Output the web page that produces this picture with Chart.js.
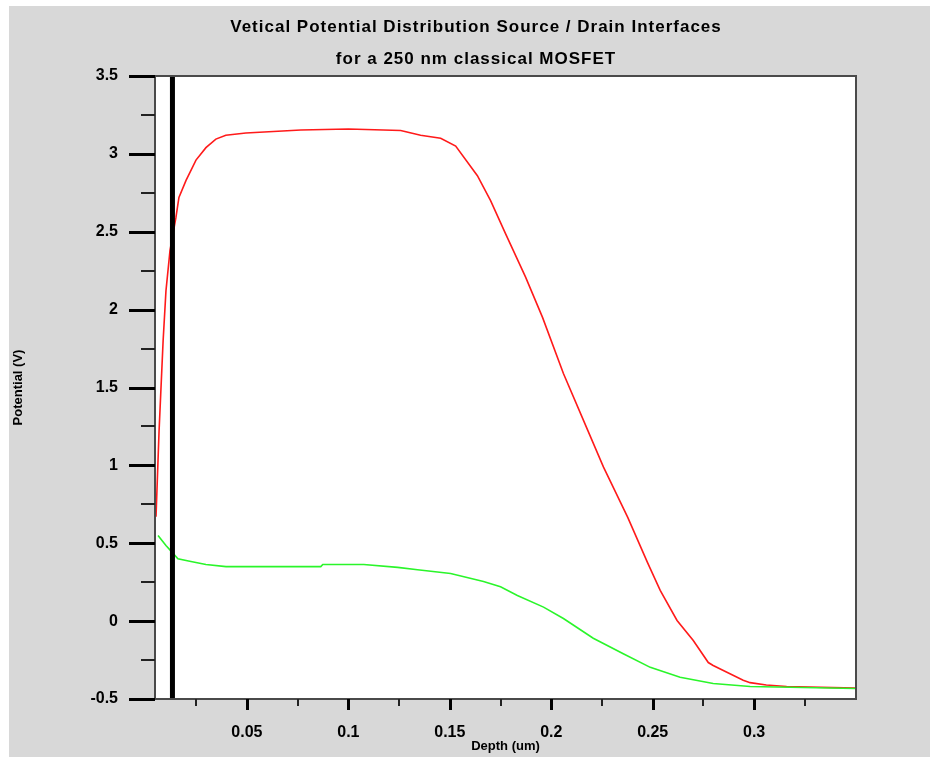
<!DOCTYPE html>
<html>
<head>
<meta charset="utf-8">
<script src="https://cdn.jsdelivr.net/npm/chart.js@4.4.0/dist/chart.umd.min.js"></script>
<style>
  html, body { margin: 0; padding: 0; background: #fff; }
  #wrap { position: absolute; left: 9px; top: 6px; width: 921px; height: 751px; background: #d8d8d8; }
</style>
</head>
<body>
<div id="wrap"><canvas id="chart" width="921" height="751"></canvas></div>
<script>
// potential curves (depth in um, potential in V)
const redDepth = [0.0052, 0.0067, 0.0087, 0.0101, 0.0121, 0.0150, 0.0165, 0.0200, 0.0249, 0.0298, 0.0347, 0.0396, 0.0495, 0.0766, 0.100, 0.1258, 0.1356, 0.1455, 0.1529, 0.1636, 0.1701, 0.1774, 0.1873, 0.1957, 0.2060, 0.2180, 0.2257, 0.2377, 0.2474, 0.2537, 0.2620, 0.2700, 0.2774, 0.2798, 0.2946, 0.2980, 0.3060, 0.3160, 0.3500];
const redPotential = [0.67, 1.22, 1.80, 2.12, 2.38, 2.59, 2.72, 2.83, 2.96, 3.04, 3.095, 3.12, 3.134, 3.153, 3.16, 3.15, 3.12, 3.10, 3.05, 2.86, 2.70, 2.49, 2.21, 1.95, 1.59, 1.225, 0.99, 0.666, 0.377, 0.197, 0.004, -0.125, -0.266, -0.285, -0.38, -0.395, -0.41, -0.42, -0.43];

const greenDepth = [0.0062, 0.0101, 0.0136, 0.0160, 0.0224, 0.0298, 0.0397, 0.0864, 0.0874, 0.1076, 0.1243, 0.1341, 0.1504, 0.1666, 0.1750, 0.1833, 0.1962, 0.2060, 0.2207, 0.2355, 0.2488, 0.2635, 0.2798, 0.2980, 0.3500];
const greenPotential = [0.55, 0.486, 0.435, 0.40, 0.383, 0.364, 0.35, 0.35, 0.364, 0.364, 0.345, 0.33, 0.306, 0.255, 0.22, 0.165, 0.09, 0.017, -0.11, -0.21, -0.297, -0.36, -0.40, -0.42, -0.433];

// interface marker (thick black vertical line)
const interfaceDepth = 0.0133;

const xMajorTicks = [0.05, 0.1, 0.15, 0.2, 0.25, 0.3];
const xMinorTicks = [0.025, 0.075, 0.125, 0.175, 0.225, 0.275, 0.325];
const yMajorTicks = [-0.5, 0, 0.5, 1, 1.5, 2, 2.5, 3, 3.5];
const yMinorTicks = [-0.25, 0.25, 0.75, 1.25, 1.75, 2.25, 2.75, 3.25];

const titleLines = ['Vetical Potential Distribution Source / Drain Interfaces', 'for a 250 nm classical MOSFET'];

const pts = (xs, ys) => xs.map((x, i) => ({ x: x, y: ys[i] }));

const frame = {
  id: 'frame',
  beforeDraw(chart) {
    const a = chart.chartArea, ctx = chart.ctx;
    ctx.save();
    ctx.fillStyle = '#fff';
    ctx.fillRect(a.left, a.top, a.right - a.left, a.bottom - a.top);
    ctx.restore();
  },
  afterDraw(chart) {
    const a = chart.chartArea, ctx = chart.ctx;
    const xs = chart.scales.x, ys = chart.scales.y;
    ctx.save();
    // titles
    ctx.fillStyle = '#000';
    ctx.font = 'bold 17px "Liberation Sans"';
    ctx.letterSpacing = '1px';
    ctx.textAlign = 'center';
    ctx.textBaseline = 'middle';
    ctx.fillText(titleLines[0], 467, 21);
    ctx.fillText(titleLines[1], 467, 53);
    ctx.letterSpacing = '0px';
    // frame
    ctx.strokeStyle = '#4a4a4a';
    ctx.lineWidth = 2;
    ctx.strokeRect(a.left, a.top, a.right - a.left, a.bottom - a.top);
    // ticks
    ctx.strokeStyle = '#000';
    ctx.lineWidth = 3;
    yMajorTicks.forEach(v => {
      const p = Math.round(ys.getPixelForValue(v)) + 0.5;
      ctx.beginPath(); ctx.moveTo(a.left - 26, p); ctx.lineTo(a.left, p); ctx.stroke();
    });
    xMajorTicks.forEach(v => {
      const p = Math.round(xs.getPixelForValue(v)) + 0.5;
      ctx.beginPath(); ctx.moveTo(p, a.bottom); ctx.lineTo(p, a.bottom + 11); ctx.stroke();
    });
    ctx.strokeStyle = '#222';
    ctx.lineWidth = 2;
    yMinorTicks.forEach(v => {
      const p = Math.round(ys.getPixelForValue(v));
      ctx.beginPath(); ctx.moveTo(a.left - 14, p); ctx.lineTo(a.left, p); ctx.stroke();
    });
    xMinorTicks.forEach(v => {
      const p = Math.round(xs.getPixelForValue(v));
      ctx.beginPath(); ctx.moveTo(p, a.bottom); ctx.lineTo(p, a.bottom + 7); ctx.stroke();
    });
    ctx.restore();
  }
};

new Chart(document.getElementById('chart'), {
  type: 'line',
  data: {
    datasets: [
      {
        data: pts([interfaceDepth, interfaceDepth], [-0.5, 3.5]),
        borderColor: '#000',
        borderWidth: 5
      },
      {
        data: pts(greenDepth, greenPotential),
        borderColor: '#2af52a',
        borderWidth: 1.6
      },
      {
        data: pts(redDepth, redPotential),
        borderColor: '#ff1a1a',
        borderWidth: 1.6
      }
    ]
  },
  options: {
    responsive: false,
    animation: false,
    layout: { padding: { left: 0, top: 70, right: 74, bottom: 0 } },
    elements: { point: { radius: 0 }, line: { tension: 0 } },
    plugins: {
      legend: { display: false },
      tooltip: { enabled: false }
    },
    scales: {
      x: {
        type: 'linear',
        min: 0.0047,
        max: 0.3502,
        afterBuildTicks: s => { s.ticks = xMajorTicks.map(v => ({ value: v })); },
        afterFit: s => { s.height = 58; },
        grid: { display: false },
        border: { display: false },
        ticks: {
          color: '#000',
          padding: 16,
          maxRotation: 0,
          font: { family: 'Liberation Sans', size: 16, weight: 'bold' },
          callback: v => String(v)
        },
        title: {
          display: true,
          text: 'Depth (um)',
          color: '#000',
          padding: { top: 0, bottom: 3 },
          font: { family: 'Liberation Sans', size: 13, weight: 'bold' }
        }
      },
      y: {
        min: -0.5,
        max: 3.5,
        afterBuildTicks: s => { s.ticks = yMajorTicks.map(v => ({ value: v })); },
        afterFit: s => { s.width = 146; },
        grid: { display: false },
        border: { display: false },
        ticks: {
          color: '#000',
          padding: 29,
          font: { family: 'Liberation Sans', size: 16, weight: 'bold' },
          callback: v => String(v)
        },
        title: {
          display: true,
          text: 'Potential (V)',
          color: '#000',
          padding: { top: 2, bottom: 0 },
          font: { family: 'Liberation Sans', size: 13, weight: 'bold' }
        }
      }
    }
  },
  plugins: [frame]
});
</script>
</body>
</html>
